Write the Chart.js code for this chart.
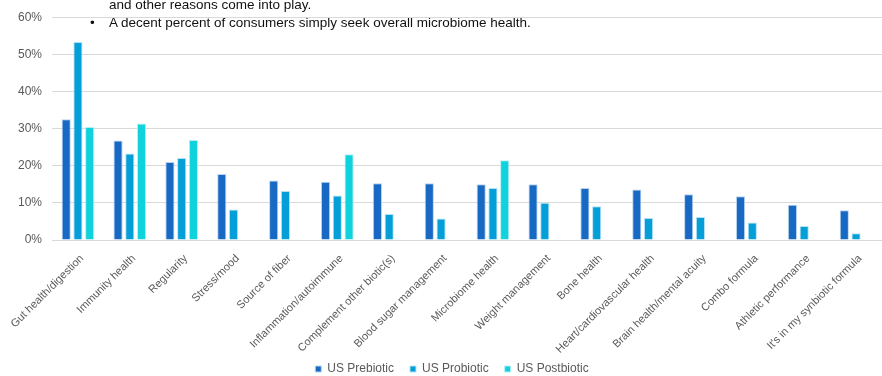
<!DOCTYPE html>
<html>
<head>
<meta charset="utf-8">
<script src="https://cdn.jsdelivr.net/npm/chart.js@4/dist/chart.umd.min.js"></script>
<style>
  html, body { margin: 0; padding: 0; background: #fff; }
  #wrap { position: relative; width: 882px; height: 376px; }
  #note { position: absolute; left: 0; top: 0; width: 882px; font-family: "Liberation Sans", Arial, sans-serif; font-size: 13.5px; line-height: 16px; color: #111; }
  #note div { position: absolute; white-space: nowrap; }
</style>
</head>
<body>
<div id="wrap">
  <canvas id="benefitChart" width="882" height="376"></canvas>
  <div id="note">
    <div style="left:109px; top:-3.5px;">and other reasons come into play.</div>
    <div style="left:90px; top:14.5px;">•</div>
    <div style="left:109px; top:14.5px;">A decent percent of consumers simply seek overall microbiome health.</div>
  </div>
</div>
<script>
// reasons for buying
let reasons = ['Gut health/digestion', 'Immunity health', 'Regularity', 'Stress/mood', 'Source of fiber',
    'Inflammation/autoimmune', 'Complement other biotic(s)', 'Blood sugar management', 'Microbiome health',
    'Weight management', 'Bone health', 'Heart/cardiovascular health', 'Brain health/mental acuity',
    'Combo formula', 'Athletic performance', "It's in my synbiotic formula"];

let prebiotic = [32.5, 26.8, 21.0, 17.8, 16.0, 15.7, 15.3, 15.3, 15.0, 15.0, 14.0, 13.6, 12.3, 11.8, 9.5, 8.0];
let probiotic = [53.3, 23.3, 22.1, 8.2, 13.2, 12.0, 7.0, 5.8, 14.0, 10.0, 9.1, 5.9, 6.2, 4.7, 3.8, 1.8];
let postbiotic = [30.4, 31.4, 26.9, null, null, 23.1, null, null, 21.5, null, null, null, null, null, null, null];

let yTicks = [0, 10, 20, 30, 40, 50, 60];

const fontFamily = '"Liberation Sans", Arial, sans-serif';
const grey = '#595959';

// tick labels may spill outside their scale box
function noLabelClip(scale) {
    scale._computeLabelArea = function() { return undefined; };
}

const ctx = document.getElementById('benefitChart').getContext('2d');

const myChart = new Chart(ctx, {
    type: 'bar',
    data: {
        labels: reasons,
        datasets: [{
            label: 'US Prebiotic',
            data: prebiotic,
            backgroundColor: '#1769c4',
            borderColor: '#b9d3ef',
            borderWidth: 1
        }, {
            label: 'US Probiotic',
            data: probiotic,
            backgroundColor: '#049fd8',
            borderColor: '#b5e2f3',
            borderWidth: 1
        }, {
            label: 'US Postbiotic',
            data: postbiotic,
            backgroundColor: '#0fd2dc',
            borderColor: '#b5f0f3',
            borderWidth: 1
        }]
    },
    options: {
        responsive: false,
        animation: false,
        layout: {
            padding: { left: 22, right: 0, top: 11, bottom: 0 }
        },
        datasets: {
            bar: {
                categoryPercentage: 0.68,
                barPercentage: 0.78
            }
        },
        scales: {
            x: {
                grid: { display: false },
                border: { display: false },
                ticks: {
                    autoSkip: false,
                    maxRotation: 45,
                    minRotation: 45,
                    padding: 4,
                    labelOffset: 4,
                    color: grey,
                    font: { family: fontFamily, size: 11 }
                },
                afterFit: function(scale) {
                    scale.height = 107;
                    noLabelClip(scale);
                }
            },
            y: {
                min: 0,
                max: 60,
                afterBuildTicks: function(scale) {
                    scale.ticks = yTicks.map(v => ({ value: v }));
                },
                grid: { color: '#d9d9d9', lineWidth: 1, drawTicks: false },
                border: { display: false },
                ticks: {
                    padding: 10,
                    color: grey,
                    font: { family: fontFamily, size: 12 },
                    callback: function(value) { return value + '%'; }
                },
                afterFit: function(scale) {
                    scale.width = 30;
                    noLabelClip(scale);
                }
            }
        },
        plugins: {
            legend: {
                position: 'bottom',
                maxHeight: 29,
                labels: {
                    boxWidth: 6,
                    boxHeight: 6,
                    padding: 16,
                    color: grey,
                    font: { family: fontFamily, size: 12 }
                }
            },
            tooltip: { enabled: false }
        }
    }
});
</script>
</body>
</html>
